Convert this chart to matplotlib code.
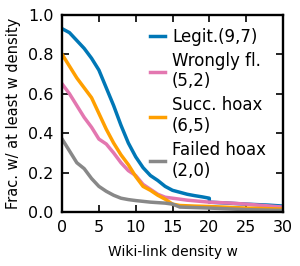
import matplotlib
matplotlib.use("Agg")
import matplotlib.pyplot as plt

# Data
legit_w = [0, 1, 2, 3, 4, 5, 6, 7, 8, 9, 10, 11, 12, 13, 14, 15, 16, 17, 18, 19, 20, 20, 22, 25, 28, 30]
legit_v = [0.93, 0.91, 0.87, 0.83, 0.78, 0.72, 0.63, 0.54, 0.44, 0.35, 0.28, 0.225, 0.185, 0.16, 0.13, 0.11,
           0.10, 0.09, 0.083, 0.077, 0.07, 0.05, 0.046, 0.04, 0.035, 0.03]

wrong_w = [0, 1, 2, 3, 4, 5, 6, 7, 8, 9, 10, 11, 12, 13, 14, 15, 17, 20, 23, 25, 30]
wrong_v = [0.65, 0.60, 0.54, 0.48, 0.43, 0.37, 0.345, 0.30, 0.25, 0.21, 0.185, 0.14, 0.115, 0.09, 0.075,
           0.07, 0.06, 0.05, 0.045, 0.04, 0.025]

succ_w = [0, 1, 2, 3, 4, 5, 6, 7, 8, 9, 10, 11, 12, 13, 14, 15, 16, 18, 20, 25, 30]
succ_v = [0.80, 0.74, 0.68, 0.63, 0.58, 0.50, 0.42, 0.35, 0.29, 0.24, 0.18, 0.13, 0.11, 0.085, 0.065,
          0.04, 0.033, 0.03, 0.028, 0.02, 0.015]

fail_w = [0, 1, 2, 3, 4, 5, 6, 7, 8, 9, 10, 12, 14, 15, 16, 20, 25, 30]
fail_v = [0.37, 0.31, 0.25, 0.22, 0.17, 0.13, 0.105, 0.085, 0.07, 0.063, 0.058, 0.05, 0.045, 0.04,
          0.025, 0.02, 0.012, 0.008]

labels = ["Legit.(9,7)", "Wrongly fl.\n(5,2)", "Succ. hoax\n(6,5)", "Failed hoax\n(2,0)"]
colors = ["#0077b6", "#e377b0", "#ff9f00", "#888888"]

x_ticks = [0, 5, 10, 15, 20, 25, 30]
y_ticks = [0.0, 0.2, 0.4, 0.6, 0.8, 1.0]

plt.rcParams['font.family'] = ['DejaVu Sans']
fig = plt.figure(figsize=(3.0, 2.66), dpi=100)
ax = fig.add_axes([0.207, 0.203, 0.736, 0.741])

series = [(legit_w, legit_v), (wrong_w, wrong_v), (succ_w, succ_v), (fail_w, fail_v)]
for (w, v), lab, c in zip(series, labels, colors):
    ax.plot(w, v, color=c, lw=2.5, label=lab, solid_joinstyle='round')

ax.set_xlim(0, 30)
ax.set_ylim(0, 1.0)
ax.set_xticks(x_ticks)
ax.set_yticks(y_ticks)
ax.set_yticklabels([f"{t:.1f}" for t in y_ticks])
ax.tick_params(direction='in', length=5, width=1.2, top=True, right=True, labelsize=11.5, pad=6)
for s in ax.spines.values():
    s.set_linewidth(1.7)

ax.set_xlabel("Wiki-link density w", fontsize=10, labelpad=7)
ax.set_ylabel("Frac. w/ at least w density", fontsize=10.5, labelpad=5)

ax.legend(loc='upper left', bbox_to_anchor=(0.40, 0.935), frameon=False, fontsize=12,
          handlelength=0.9, handletextpad=0.4, labelspacing=0.35, borderpad=0, borderaxespad=0)

fig.savefig("out.png", dpi=100)
